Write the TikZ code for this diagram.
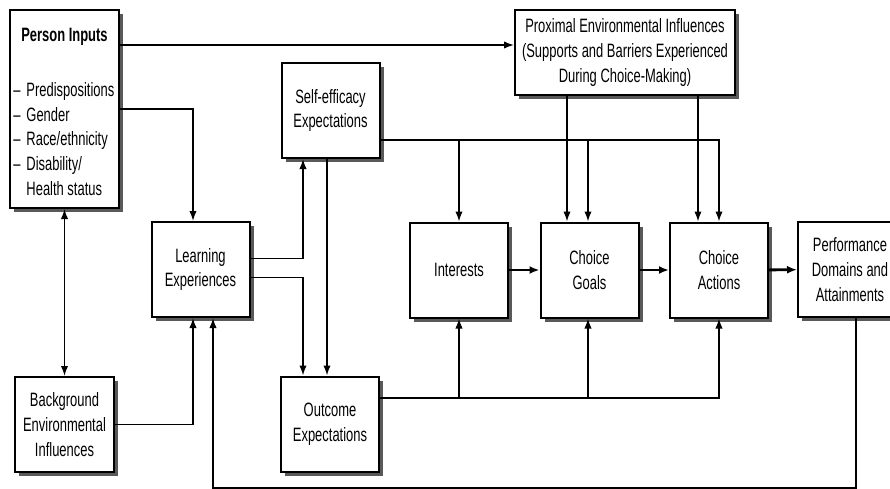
\documentclass[tikz,border=0pt]{standalone}
\usepackage{fontspec}
\setmainfont{Liberation Sans}[FakeStretch=0.67]
\usepackage{tikz}
\usetikzlibrary{arrows.meta}
\usetikzlibrary{shadows}
\usetikzlibrary{calc}

\begin{document}
\begin{tikzpicture}[x=0.75pt,y=0.75pt,yscale=-1,xscale=1,
  box/.style={draw, line width=1.5pt, fill=white, inner sep=0pt, align=center,
    minimum width=73.5pt, minimum height=71.25pt,
    drop shadow={shadow xshift=3pt, shadow yshift=-3pt, fill=black!65, opacity=1}},
  arr/.style={line width=1.1pt, -{Latex[length=7.5pt,width=5.5pt]}},
  fat/.style={line width=2.2pt, -{Latex[length=7.5pt,width=6pt]}},
  font=\fontsize{14.5}{18.5}\selectfont]
%set diagram size to 890 x 489
\useasboundingbox (0,0) rectangle (890,489);

%Boxes
\node[box, minimum width=81.75pt, minimum height=148.5pt] (person) at (64.5,109) {};
\node[box, minimum width=165pt, minimum height=63.75pt] (prox) at (625,52.5) {Proximal Environmental Influences\\(Supports and Barriers Experienced\\During Choice-Making)};
\node[box] (self) at (330.5,110.5) {Self-efficacy\\Expectations};
\node[box] (learn) at (200.5,269.5) {Learning\\Experiences};
\node[box, minimum width=74.25pt] (bg) at (64.5,424.5) {Background\\Environmental\\Influences};
\node[box] (out) at (330,424) {Outcome\\Expectations};
\node[box] (int) at (459,270) {Interests};
\node[box] (goal) at (589.5,270) {Choice\\Goals};
\node[box] (act) at (719,270) {Choice\\Actions};
\node[box, minimum width=78pt] (perf) at (850,269.5) {Performance\\Domains and\\Attainments};

% Text Node
\node[font=\fontsize{14.5}{18.5}\selectfont\bfseries] (phead) at (64.5,37) {Person Inputs};
% Text Node
\node[anchor=north west, inner sep=0pt] (plist) at (13,79) {\begin{tabular}{@{}l@{\hspace{4.5pt}}l@{}}
–&Predispositions\\ –&Gender\\ –&Race/ethnicity\\ –&Disability/\\ &Health status\end{tabular}};

%Connectors
\coordinate (pin) at ($(person.north east)+(0,36)$);
\draw[arr] (pin) -- (pin -| prox.west);
\draw[arr] (person.east) -| ($(learn.north)+(-7.5,0)$);
\draw[arr, <->, >={Latex[length=7.5pt,width=5.5pt]}] (person.south) -- (bg.north);
\draw[arr] (bg.east) -| ($(learn.south)+(-7.5,0)$);
\draw[arr] ($(perf.south)+(6,0)$) -- ++(0,170) -| ($(learn.south)+(12.5,0)$);

\draw[arr] ($(learn.east)+(0,-11)$) -| ($(self.south)+(-27.5,0)$);
\draw[arr] ($(learn.east)+(0,8)$) -| ($(out.north)+(-27,0)$);
\draw[arr] ($(self.south)+(-3.5,0)$) -- ($(out.north)+(-3,0)$);

\coordinate (sb) at ($(self.east)+(0,29.5)$);
\draw[arr] (sb) -| (int.north);
\draw[arr] (sb) -| ($(goal.north)+(-1.5,0)$);
\draw[arr] (sb) -| (act.north);

\coordinate (g1) at ($(goal.north)+(-22.5,0)$);
\coordinate (a1) at ($(act.north)+(-21,0)$);
\draw[arr] (prox.south -| g1) -- (g1);
\draw[arr] (prox.south -| a1) -- (a1);

\coordinate (ob) at ($(out.east)+(0,-26)$);
\draw[arr] (ob) -| (int.south);
\draw[arr] (ob) -| ($(goal.south)+(-1.5,0)$);
\draw[arr] (ob) -| (act.south);

\draw[fat] (int) -- (goal);
\draw[fat] (goal) -- (act);
\draw[fat] (act) -- (perf);

\end{tikzpicture}
\end{document}
